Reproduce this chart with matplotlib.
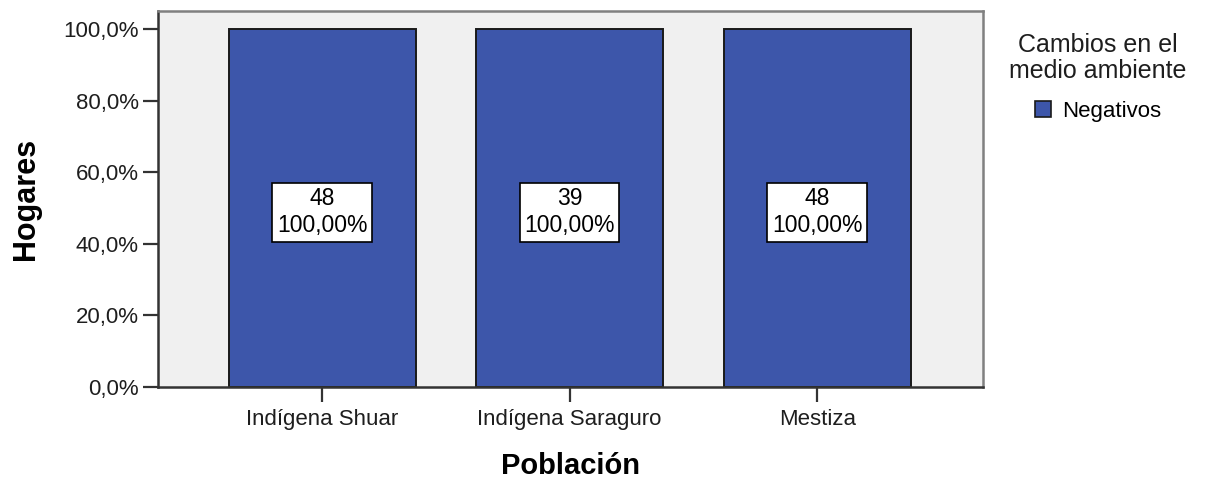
import matplotlib
matplotlib.use("Agg")
import matplotlib.pyplot as plt
from matplotlib.patches import Patch

plt.rcParams['font.family'] = ['Liberation Sans', 'DejaVu Sans']

categories = ["Indígena Shuar", "Indígena Saraguro", "Mestiza"]
percentages = [100.0, 100.0, 100.0]
counts = [48, 39, 48]
series_name = "Negativos"
legend_title = "Cambios en el\nmedio ambiente"
y_ticks = [0, 20, 40, 60, 80, 100]
y_tick_labels = ["0,0%", "20,0%", "40,0%", "60,0%", "80,0%", "100,0%"]

bar_color = "#3d56aa"
bg_color = "#f0f0f0"

fig = plt.figure(figsize=(12.06, 4.82), dpi=100)
ax = fig.add_axes([158 / 1206, 95 / 482, 825 / 1206, 376 / 482])
ax.set_facecolor(bg_color)

x = list(range(len(categories)))
ax.bar(x, percentages, width=0.756, color=bar_color, edgecolor="#1a1a1a",
       linewidth=1.4, zorder=2)

for xi, pct, n in zip(x, percentages, counts):
    label = f"{n}\n{pct:.2f}%".replace(".", ",")
    ax.text(xi, pct / 2 - 1.2, label, ha="center", va="center", fontsize=16.5,
            linespacing=1.2, zorder=3,
            bbox=dict(boxstyle="square,pad=0.2", fc="white", ec="black", lw=1.2))

ax.set_xlim(-0.663, 2.67)
ax.set_ylim(0, 105)
ax.set_xticks(x)
ax.set_xticklabels(categories, fontsize=16, color="#1e1e1e")
ax.set_yticks(y_ticks)
ax.set_yticklabels(y_tick_labels, fontsize=16, color="#1e1e1e")
ax.tick_params(axis="both", direction="out", length=11, width=1.6,
               color="#333333", pad=3)
ax.tick_params(axis="x", pad=5)

for side in ("left", "bottom"):
    ax.spines[side].set_color("#333333")
    ax.spines[side].set_linewidth(1.8)
for side in ("top", "right"):
    ax.spines[side].set_color("#808080")
    ax.spines[side].set_linewidth(1.8)

ax.set_ylabel("Hogares", fontsize=22, fontweight="bold", labelpad=16)
ax.set_xlabel("Población", fontsize=21, fontweight="bold", labelpad=16)

handle = Patch(facecolor=bar_color, edgecolor="#1a1a1a", linewidth=1.2)
leg = fig.legend([handle], [series_name], title=legend_title,
                 loc="upper center", bbox_to_anchor=(1098 / 1206, 1 - 22 / 482),
                 frameon=False, fontsize=16, title_fontsize=18,
                 handlelength=0.7, handleheight=0.75, handletextpad=0.5,
                 borderpad=0.0, labelspacing=0.8)
leg.get_title().set_multialignment("center")
leg.get_title().set_linespacing(1.1)
leg.get_title().set_color("#1e1e1e")

fig.savefig("out.png", dpi=100)
